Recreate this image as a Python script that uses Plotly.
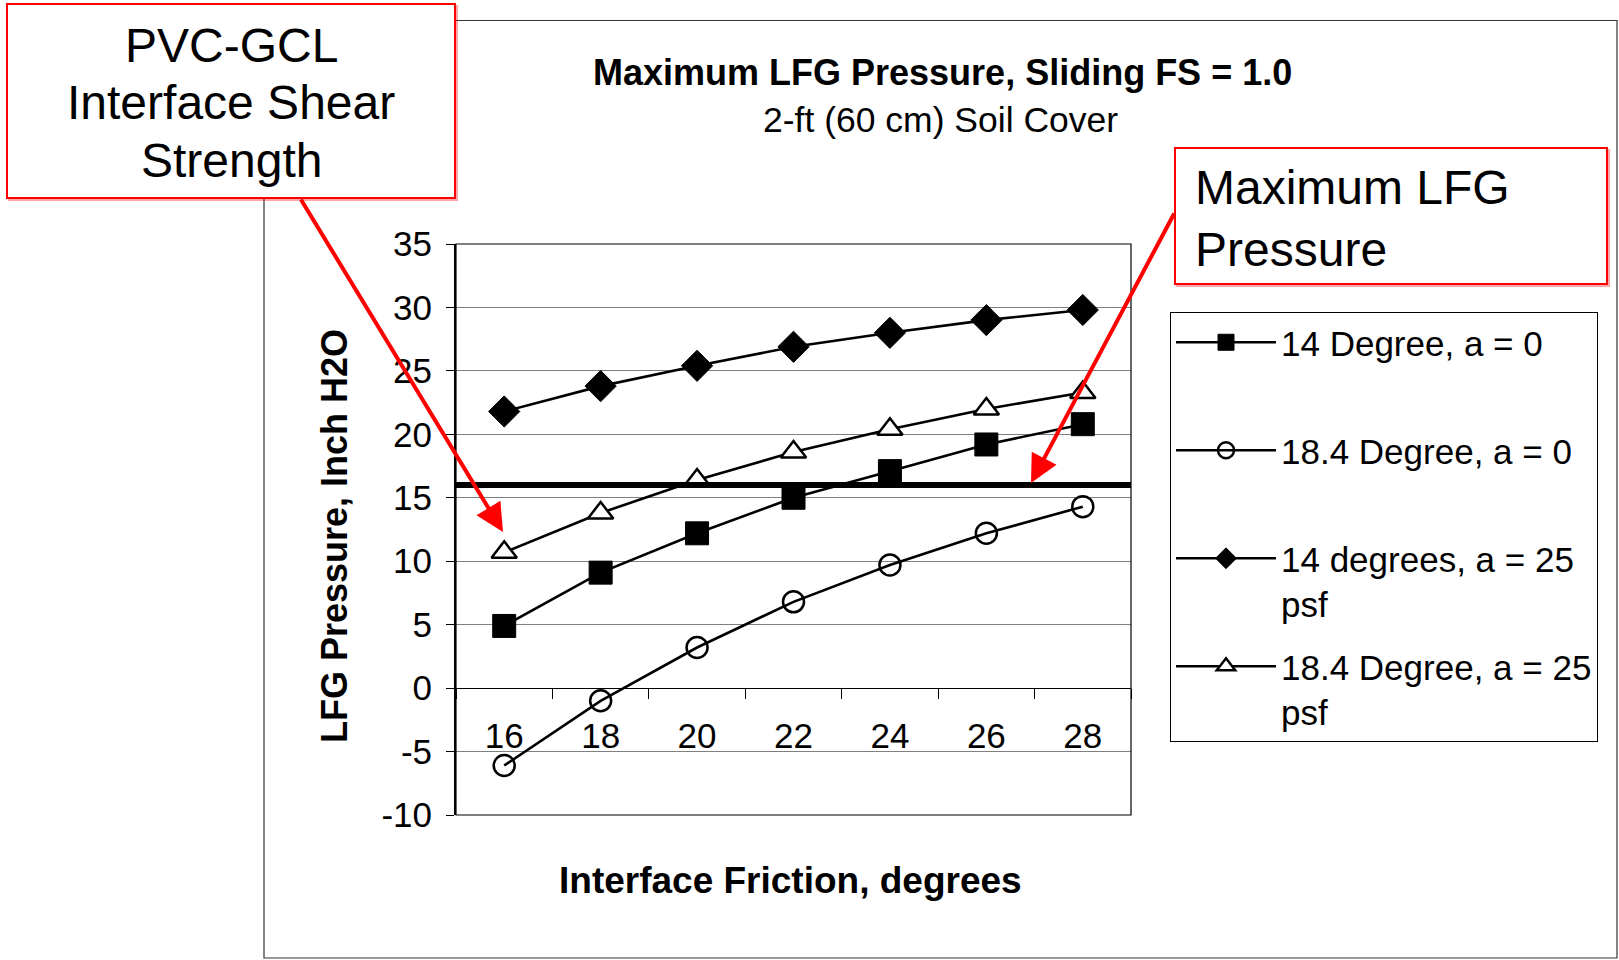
import plotly.graph_objects as go

# ---------------- data ----------------
friction_deg = ["16", "18", "20", "22", "24", "26", "28"]

s14_a0 = [4.9, 9.1, 12.2, 15.0, 17.1, 19.2, 20.8]
s184_a0 = [-6.1, -1.0, 3.2, 6.8, 9.7, 12.2, 14.3]
s14_a25 = [21.8, 23.8, 25.4, 26.9, 28.0, 29.0, 29.8]
s184_a25 = [10.7, 13.8, 16.4, 18.6, 20.4, 22.0, 23.3]

series_names = [
    "14 Degree, a = 0<br> ",
    "18.4 Degree, a = 0<br> ",
    "14 degrees, a = 25<br>psf",
    "18.4 Degree, a = 25<br>psf",
]
max_lfg_pressure = 16

y_min, y_max, y_step = -10, 35, 5
y_ticks = list(range(y_min, y_max + 1, y_step))
y_tick_text = [str(v) for v in y_ticks]

title_main = "Maximum LFG Pressure, Sliding FS = 1.0"
title_sub = "2-ft (60 cm) Soil Cover"
x_title = "Interface Friction, degrees"
y_title = "LFG Pressure, Inch H2O"
box1_lines = ["PVC-GCL", "Interface Shear", "Strength"]
box2_text = "Maximum LFG<br>Pressure"

# ---------------- layout geometry ----------------
W, H = 1619, 960
L, R, T, B = 456, 1131, 244, 815  # plot area in pixels
PW, PH = R - L, B - T


def px(x):
    return (x - L) / PW


def py(y):
    return (B - y) / PH


FONT = "Liberation Sans, Arial, sans-serif"
BLACK = "#000000"
RED = "#FF0000"

fig = go.Figure()

styles = [
    dict(symbol="square", size=23, color=BLACK, line=dict(color=BLACK, width=1)),
    dict(symbol="circle-open", size=21, color=BLACK, line=dict(color=BLACK, width=2.5)),
    dict(symbol="diamond", size=24, color=BLACK, line=dict(color=BLACK, width=1)),
    dict(symbol="triangle-up", size=22, color="#FFFFFF", line=dict(color=BLACK, width=2.5)),
]
for i, (vals, name, mk) in enumerate(zip([s14_a0, s184_a0, s14_a25, s184_a25], series_names, styles)):
    fig.add_trace(go.Scatter(
        x=friction_deg, y=vals, name=name, mode="lines+markers",
        line=dict(color=BLACK, width=2.6), marker=mk,
        legendgroup=f"g{i}",
    ))

shapes = []
# outer chart frame
shapes.append(dict(type="rect", xref="paper", yref="paper",
                   x0=px(264), x1=px(1617), y0=py(958), y1=py(20.5),
                   line=dict(color="#333333", width=1.2), fillcolor="rgba(0,0,0,0)", layer="below"))
# plot-area border
shapes.append(dict(type="rect", xref="paper", yref="paper", x0=0, x1=1, y0=0, y1=1,
                   line=dict(color=BLACK, width=1.2), layer="above"))
# threshold line
shapes.append(dict(type="line", xref="paper", yref="y", x0=0, x1=1,
                   y0=max_lfg_pressure, y1=max_lfg_pressure,
                   line=dict(color=BLACK, width=6), layer="above"))
# callout boxes (light shadow then box)
for (x0, y0, x1, y1) in [(7, 4, 455, 198), (1175, 148, 1607, 284)]:
    shapes.append(dict(type="rect", xref="paper", yref="paper",
                       x0=px(x0 + 2), x1=px(x1 + 2), y0=py(y1 + 2), y1=py(y0 + 2),
                       line=dict(color="rgba(255,0,0,0.35)", width=2), fillcolor="rgba(0,0,0,0)"))
    shapes.append(dict(type="rect", xref="paper", yref="paper",
                       x0=px(x0), x1=px(x1), y0=py(y1), y1=py(y0),
                       line=dict(color=RED, width=2), fillcolor="#FFFFFF"))


def note(text, x, y, size, **kw):
    d = dict(text=text, x=px(x), y=py(y), xref="paper", yref="paper", showarrow=False,
             xanchor="center", yanchor="middle",
             font=dict(size=size, family=FONT, color=BLACK))
    d.update(kw)
    return d


annotations = [
    note(f"<b>{title_main}</b>", 942, 72, 36),
    note(title_sub, 940, 120, 35.5),
    note(f"<b>{x_title}</b>", 790, 880, 37),
    note(f"<b>{y_title}</b>", 334, 536, 36, textangle=-90),
    note(box2_text, 1193, 218, 48, align="left", xanchor="left"),
    # arrows
    dict(text="", x=px(503), y=py(532), xref="paper", yref="paper", showarrow=True,
         ax=300 - 503, ay=198 - 532, arrowcolor=RED, arrowwidth=4, arrowhead=2,
         arrowsize=1.4, standoff=0),
    dict(text="", x=px(1031), y=py(483), xref="paper", yref="paper", showarrow=True,
         ax=1175 - 1031, ay=212 - 483, arrowcolor=RED, arrowwidth=4, arrowhead=2,
         arrowsize=1.4, standoff=0),
]
for line_text, ly in zip(box1_lines, [45, 103, 160]):
    annotations.append(note(line_text, 231, ly, 48))

fig.update_layout(
    width=W, height=H,
    margin=dict(l=L, r=W - R, t=T, b=H - B, pad=0),
    paper_bgcolor="#FFFFFF", plot_bgcolor="#FFFFFF",
    font=dict(family=FONT, size=35, color=BLACK),
    showlegend=True,
    legend=dict(x=px(1170), y=py(312), xanchor="left", yanchor="top",
                bordercolor=BLACK, borderwidth=1, bgcolor="#FFFFFF",
                font=dict(size=35, family=FONT, color=BLACK),
                tracegroupgap=14, valign="top", itemwidth=100,
                traceorder="grouped"),
    shapes=shapes,
    annotations=annotations,
    xaxis=dict(type="category", categoryorder="array", categoryarray=friction_deg,
               range=[-0.5, len(friction_deg) - 0.5],
               anchor="free", position=(0 - y_min) / (y_max - y_min),
               showline=True, linecolor=BLACK, linewidth=1.2,
               ticks="outside", tickson="boundaries", ticklen=10, tickcolor=BLACK, tickwidth=1.2,
               tickfont=dict(size=35, family=FONT, color=BLACK), ticklabelstandoff=17,
               showgrid=False, zeroline=False),
    yaxis=dict(range=[y_min, y_max], tickvals=y_ticks, ticktext=y_tick_text,
               ticks="outside", ticklen=8,
               tickcolor=BLACK, tickwidth=1.2, showline=True, linecolor=BLACK, linewidth=2,
               showgrid=True, gridcolor="#808080", gridwidth=1, zeroline=False,
               tickfont=dict(size=35, family=FONT, color=BLACK), ticklabelstandoff=7),
)

fig.write_html("out.html", config={"displayModeBar": False},
               post_script="document.body.style.margin='0';")
